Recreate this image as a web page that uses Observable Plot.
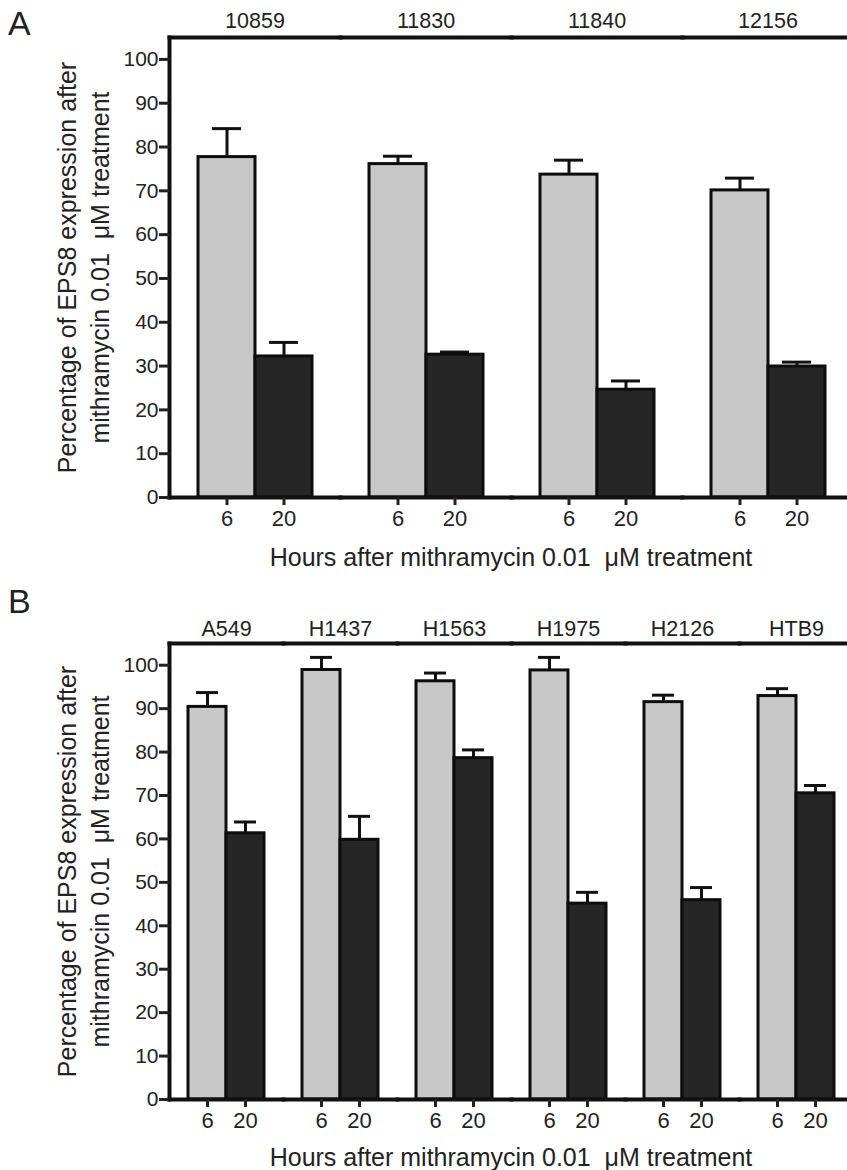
<!DOCTYPE html>
<html>
<head>
<meta charset="utf-8">
<script src="https://cdn.jsdelivr.net/npm/d3@7"></script>
<script src="https://cdn.jsdelivr.net/npm/@observablehq/plot@0.6"></script>
<style>
html, body { margin: 0; padding: 0; background: #fff; overflow: hidden; }
#root { position: relative; width: 847px; height: 1170px; overflow: hidden;
  font-family: "Liberation Sans", Arial, sans-serif; color: #222; }
.panel { position: absolute; left: 0; }
.letter { position: absolute; font-size: 34px; line-height: 1; }
.xtitle { position: absolute; left: 169px; width: 684px; text-align: center;
  font-size: 25px; line-height: 1; white-space: pre; }
.ytitle { position: absolute; width: 460px; height: 33px; font-size: 25px;
  line-height: 33px; text-align: center; white-space: pre; transform: rotate(-90deg);
  transform-origin: 50% 50%; }
</style>
</head>
<body>
<div id="root"></div>
<script>
// ---- data ----
const hours = [6, 20];
const yTicks = [0, 10, 20, 30, 40, 50, 60, 70, 80, 90, 100];

const groupsA = ["10859", "11830", "11840", "12156"];
const meanA6  = [77.7, 76.1, 73.7, 70.1];
const errA6   = [6.5, 1.8, 3.3, 2.8];
const meanA20 = [32.2, 32.6, 24.6, 29.9];
const errA20  = [3.2, 0.6, 2.0, 1.0];

const groupsB = ["A549", "H1437", "H1563", "H1975", "H2126", "HTB9"];
const meanB6  = [90.4, 98.9, 96.3, 98.8, 91.5, 92.9];
const errB6   = [3.3, 2.9, 1.9, 3.0, 1.6, 1.7];
const meanB20 = [61.3, 59.8, 78.6, 45.1, 45.9, 70.5];
const errB20  = [2.6, 5.4, 1.9, 2.6, 2.9, 1.8];

const panelLetters = ["A", "B"];
const xTitle = "Hours after mithramycin 0.01  \u03bcM treatment";
const yTitle = ["Percentage of EPS8 expression after", "mithramycin 0.01  \u03bcM treatment"];

function table(groups, m6, e6, m20, e20) {
  return groups.flatMap((g, i) => [
    {group: g, hour: hours[0], value: m6[i], hi: m6[i] + e6[i]},
    {group: g, hour: hours[1], value: m20[i], hi: m20[i] + e20[i]}
  ]);
}

function panel({groups, data, height, marginTop, marginBottom, capInset, fxPad}) {
  return Plot.plot({
    width: 847, height, marginTop, marginBottom, marginLeft: 169, marginRight: 0,
    style: {fontFamily: "Liberation Sans, Arial, sans-serif", color: "#222", background: "transparent"},
    fx: {domain: groups, range: [169, 853], paddingInner: 0, paddingOuter: 0},
    x: {type: "band", domain: hours, paddingInner: 0, paddingOuter: 0.5},
    y: {domain: [0, 105]},
    color: {type: "ordinal", domain: hours, range: ["#c8c8c8", "#262626"]},
    marks: [
      Plot.ruleX(data, {fx: "group", x: "hour", y1: "value", y2: "hi", stroke: "#111", strokeWidth: 3}),
      Plot.tickY(data, {fx: "group", x: "hour", y: "hi", stroke: "#111", strokeWidth: 3, inset: capInset}),
      Plot.barY(data, {fx: "group", x: "hour", y: "value", fill: "hour", stroke: "#0d0d0d", strokeWidth: 3}),
      Plot.frame({anchor: "top", stroke: "#111", strokeWidth: 4}),
      Plot.frame({anchor: "bottom", stroke: "#111", strokeWidth: 4}),
      Plot.frame({anchor: "left", fx: () => groups[0], stroke: "#111", strokeWidth: 4}),
      Plot.axisY(yTicks, {tickSize: 10, tickPadding: 1, strokeWidth: 3, fontSize: 21, label: null}),
      Plot.axisX({tickSize: 8, tickPadding: 5, strokeWidth: 3, fontSize: 22, label: null}),
      Plot.axisFx({anchor: "top", tickSize: 0, tickPadding: fxPad, fontSize: 21.5, label: null})
    ]
  });
}

const root = document.getElementById("root");

const specs = [
  {groups: groupsA, data: table(groupsA, meanA6, errA6, meanA20, errA20),
   top: 0, height: 580, marginTop: 37, marginBottom: 83, capInset: 14, fxPad: 10,
   letterTop: 6, xTitleTop: 545, yCenter: 267},
  {groups: groupsB, data: table(groupsB, meanB6, errB6, meanB20, errB20),
   top: 580, height: 590, marginTop: 63, marginBottom: 71, capInset: 8, fxPad: 8,
   letterTop: 584, xTitleTop: 1145, yCenter: 871}
];

const yLineCenters = [66.5, 99.5];

specs.forEach((s, i) => {
  const svg = panel(s);
  svg.classList.add("panel");
  svg.style.top = s.top + "px";
  root.appendChild(svg);

  const letter = document.createElement("div");
  letter.className = "letter";
  letter.style.left = "8px";
  letter.style.top = s.letterTop + "px";
  letter.textContent = panelLetters[i];
  root.appendChild(letter);

  const xt = document.createElement("div");
  xt.className = "xtitle";
  xt.style.top = s.xTitleTop + "px";
  xt.textContent = xTitle;
  root.appendChild(xt);

  yTitle.forEach((line, j) => {
    const yt = document.createElement("div");
    yt.className = "ytitle";
    yt.style.left = (yLineCenters[j] - 230) + "px";
    yt.style.top = (s.yCenter - 16.5) + "px";
    yt.textContent = line;
    root.appendChild(yt);
  });
});
</script>
</body>
</html>
